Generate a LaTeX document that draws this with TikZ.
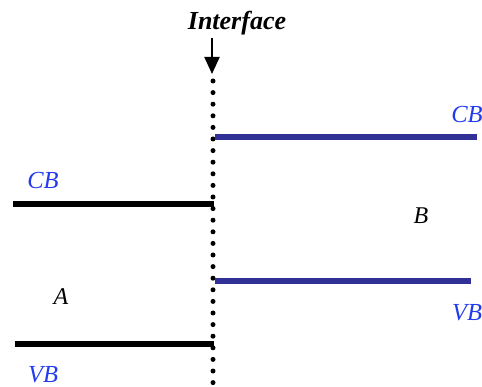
\documentclass[tikz,border=0pt]{standalone}
\usepackage{fontspec}
\setmainfont{Liberation Serif}
\usetikzlibrary{arrows.meta}
\definecolor{bandblue}{RGB}{48,48,150}
\definecolor{labelblue}{RGB}{35,60,235}
\tikzset{
  blackband/.style={line width=6pt, black},
  blueband/.style={line width=5.5pt, bandblue},
  bandlabel/.style={text=labelblue, font=\fontsize{24.5}{28}\selectfont\itshape, inner sep=0pt},
  regionlabel/.style={text=black, font=\fontsize{24}{28}\selectfont\itshape, inner sep=0pt},
  dotline/.style={line width=5pt, line cap=round, dash pattern=on 0pt off 11.6pt},
}
\begin{document}
\begin{tikzpicture}[x=1pt,y=-1pt]
\useasboundingbox (0,0) rectangle (482,387);
% interface
\node[font=\fontsize{26}{30}\selectfont\bfseries\itshape, inner sep=0pt] (title) at (237,23) {Interface};
\coordinate (arrowstart) at (212,38);
\coordinate (arrowtip) at (212,74);
\draw[line width=2pt, -{Triangle[length=17pt,width=15pt]}] (arrowstart) -- (arrowtip);
\coordinate (dottop) at (213,81);
\coordinate (dotbot) at (213,392);
\draw[dotline] (dottop) -- (dotbot);
% left bands
\coordinate (lcbL) at (13,204);
\coordinate (lcbR) at (214,204);
\coordinate (lvbL) at (15,344);
\coordinate (lvbR) at (214,344);
\draw[blackband] (lcbL) -- (lcbR);
\draw[blackband] (lvbL) -- (lvbR);
% right bands
\coordinate (rcbL) at (215,137);
\coordinate (rcbR) at (477,137);
\coordinate (rvbL) at (215,281);
\coordinate (rvbR) at (471,281);
\draw[blueband] (rcbL) -- (rcbR);
\draw[blueband] (rvbL) -- (rvbR);
% labels
\node[bandlabel] (cbleft) at (43,181) {CB};
\node[bandlabel] (vbleft) at (43,375) {VB};
\node[bandlabel] (cbright) at (467,115) {CB};
\node[bandlabel] (vbright) at (467,313) {VB};
\node[regionlabel] (A) at (61,297) {A};
\node[regionlabel] (B) at (421,216) {B};
\end{tikzpicture}
\end{document}
